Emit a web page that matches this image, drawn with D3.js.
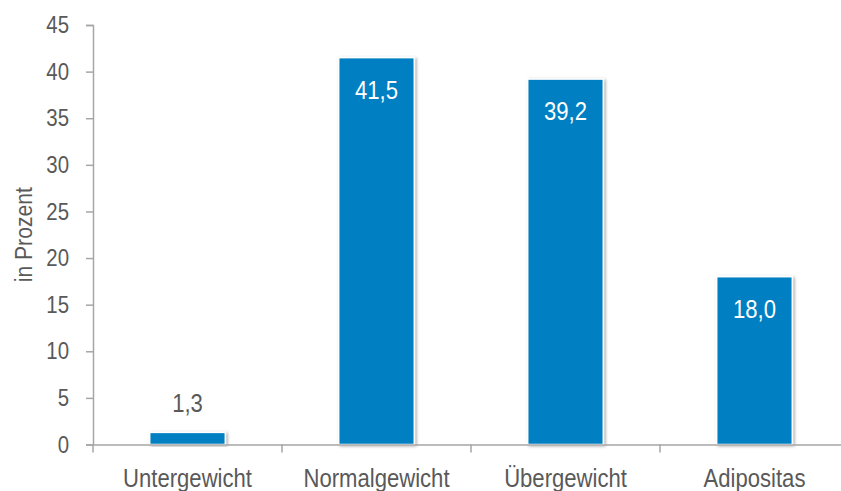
<!DOCTYPE html>
<html>
<head>
<meta charset="utf-8">
<script src="https://cdn.jsdelivr.net/npm/d3@7/dist/d3.min.js"></script>
<style>
  html, body { margin: 0; padding: 0; background: #fff; }
  svg { display: block; }
  text { font-family: "Liberation Sans Narrow", "Arial Narrow", "Liberation Sans", Arial, sans-serif; }
</style>
</head>
<body>
<svg id="chart" width="841" height="491"></svg>
<script>
// Body weight categories and their shares in percent
const categories = ["Untergewicht", "Normalgewicht", "Übergewicht", "Adipositas"];
const values = [1.3, 41.5, 39.2, 18.0];
const valueLabels = ["1,3", "41,5", "39,2", "18,0"];
const yTicks = [0, 5, 10, 15, 20, 25, 30, 35, 40, 45];

const svg = d3.select("#chart");
const plotLeft = 93, plotRight = 849, plotTop = 25, plotBottom = 444.5;
const axisColor = "#a6a6a6", textColor = "#595959", barColor = "#0080c2";
const narrow = 0.85; // horizontal squeeze for a condensed look

// Squeeze text horizontally around its anchor point
function condense(sel, k) {
  sel.each(function () {
    const t = d3.select(this);
    const tx = +t.attr("x") || 0, ty = +t.attr("y") || 0;
    const prev = t.attr("transform") || "";
    t.attr("x", 0).attr("y", 0)
     .attr("transform", `${prev} translate(${tx},${ty}) scale(${k},1)`);
  });
}

const defs = svg.append("defs");
const f = defs.append("filter").attr("id", "shadow")
  .attr("x", "-20%").attr("y", "-20%").attr("width", "140%").attr("height", "140%");
f.append("feDropShadow").attr("dx", 1.5).attr("dy", 1).attr("stdDeviation", 1.5)
  .attr("flood-color", "#000").attr("flood-opacity", 0.35);

const x = d3.scaleBand().domain(categories).range([plotLeft, plotRight]).padding(0);
const y = d3.scaleLinear().domain([0, 45]).range([plotBottom, plotTop]);
const barW = x.bandwidth() * 0.4;

// Y axis
const yAxis = svg.append("g").attr("transform", `translate(${plotLeft},0)`)
  .call(d3.axisLeft(y).tickValues(yTicks).tickSize(7).tickPadding(17).tickFormat(d3.format("d")));
yAxis.select(".domain").attr("stroke", axisColor).attr("stroke-width", 1.5);
yAxis.selectAll(".tick line").attr("stroke", axisColor).attr("stroke-width", 1.5);
yAxis.selectAll(".tick text").attr("fill", textColor).attr("font-size", 24)
  .attr("font-family", null).call(condense, narrow);

// Bars
svg.append("g").selectAll("rect").data(values).join("rect")
  .attr("x", (d, i) => x(categories[i]) + (x.bandwidth() - barW) / 2)
  .attr("y", d => y(d))
  .attr("width", barW)
  .attr("height", d => y(0) - y(d))
  .attr("fill", barColor)
  .attr("stroke", "#fff")
  .attr("stroke-width", 1.5)
  .attr("filter", "url(#shadow)");

// X axis
const xAxis = svg.append("g").attr("transform", `translate(0,${plotBottom})`)
  .call(d3.axisBottom(x).tickSize(0).tickPadding(24));
xAxis.select(".domain").attr("stroke", axisColor).attr("stroke-width", 1.5);
xAxis.selectAll(".tick text").attr("fill", textColor).attr("font-size", 26)
  .attr("font-family", null).call(condense, narrow);
// Category separators below the axis
svg.append("g").selectAll("line").data(d3.range(categories.length + 1)).join("line")
  .attr("x1", i => plotLeft + i * x.step()).attr("x2", i => plotLeft + i * x.step())
  .attr("y1", plotBottom).attr("y2", plotBottom + 8)
  .attr("stroke", axisColor).attr("stroke-width", 1.5);

// Value labels: inside tall bars, above short ones
svg.append("g").selectAll("text").data(values).join("text")
  .attr("x", (d, i) => x(categories[i]) + x.bandwidth() / 2)
  .attr("y", d => (y(0) - y(d) > 50) ? y(d) + 41 : y(d) - 20)
  .attr("text-anchor", "middle")
  .attr("font-size", 26)
  .attr("fill", d => (y(0) - y(d) > 50) ? "#fff" : textColor)
  .text((d, i) => valueLabels[i])
  .call(condense, narrow);

// Y axis title
svg.append("text")
  .attr("transform", `translate(32,${(plotTop + plotBottom) / 2}) rotate(-90) scale(${narrow + 0.03},1)`)
  .attr("text-anchor", "middle")
  .attr("font-size", 24)
  .attr("fill", textColor)
  .text("in Prozent");
</script>
</body>
</html>
